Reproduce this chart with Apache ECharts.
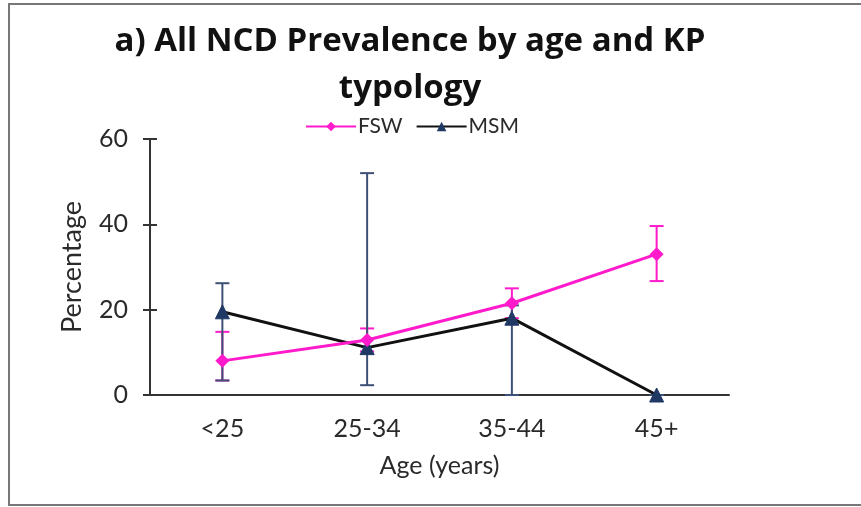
<!DOCTYPE html>
<html>
<head>
<meta charset="utf-8">
<script src="https://cdn.jsdelivr.net/npm/echarts@6/dist/echarts.min.js"></script>
<style>html,body{margin:0;padding:0;background:#fff;}#main{width:861px;height:507px;}</style>
</head>
<body>
<div id="main"></div>
<script>
var categories = ['<25', '25-34', '35-44', '45+'];
var fswValues = [8.0, 12.9, 21.5, 33.0];
var fswLower = [3.4, 10.2, 18.0, 26.7];
var fswUpper = [14.8, 15.6, 25.0, 39.6];
var msmValues = [19.5, 11.1, 18.0, 0];
var msmLower = [3.4, 2.3, 0, 0];
var msmUpper = [26.2, 52.0, 21.0, 0];
var yTicks = [0, 20, 40, 60];

var FONT = 'Lato, "Open Sans", sans-serif';
var TITLE_FONT = '"Open Sans", Lato, sans-serif';
var PINK = '#ff1acb';
var NAVY = '#1f3864';
var NAVY_ERR = '#3d5075';
var TXT = '#2a2a2a';

function errData(lo, hi) {
  return categories.map(function (c, i) { return [i, lo[i], hi[i]]; });
}
function errRender(color) {
  return function (params, api) {
    var x = api.value(0);
    var p1 = api.coord([x, api.value(1)]);
    var p2 = api.coord([x, api.value(2)]);
    var w = 7;
    var st = { stroke: color, lineWidth: 2 };
    return {
      type: 'group',
      children: [
        { type: 'line', shape: { x1: p1[0], y1: p1[1], x2: p2[0], y2: p2[1] }, style: st },
        { type: 'line', shape: { x1: p1[0] - w, y1: p1[1], x2: p1[0] + w, y2: p1[1] }, style: st },
        { type: 'line', shape: { x1: p2[0] - w, y1: p2[1], x2: p2[0] + w, y2: p2[1] }, style: st }
      ]
    };
  };
}

var chart = echarts.init(document.getElementById('main'));
chart.setOption({
  backgroundColor: '#fff',
  animation: false,
  graphic: [{
    type: 'rect', z: -10,
    shape: { x: 9, y: 4, width: 900, height: 501 },
    style: { fill: 'none', stroke: '#777', lineWidth: 2 }
  }],
  title: {
    text: 'a) All NCD Prevalence by age and KP\ntypology',
    left: 405, top: 13, textAlign: 'center',
    textStyle: { fontFamily: TITLE_FONT, fontWeight: 'bold', fontSize: 33, lineHeight: 47, color: '#111' }
  },
  legend: {
    top: 111, left: 300,
    itemWidth: 50, itemHeight: 12, itemGap: 13,
    data: ['FSW', 'MSM'],
    textStyle: { fontFamily: FONT, fontSize: 21, color: TXT, padding: [0, 0, 0, -3] }
  },
  grid: { left: 150, right: 132, top: 139, bottom: 112 },
  xAxis: {
    type: 'category', data: categories, boundaryGap: true,
    name: 'Age (years)', nameLocation: 'middle', nameGap: 58,
    nameTextStyle: { fontFamily: FONT, fontSize: 25, color: TXT },
    axisLine: { lineStyle: { color: '#333', width: 2 } },
    axisTick: { show: false },
    axisLabel: { fontFamily: FONT, fontSize: 25, color: TXT, margin: 21 }
  },
  yAxis: [{
    type: 'value', min: 0, max: 60, interval: 20,
    name: 'Percentage', nameLocation: 'middle', nameGap: 64,
    nameTextStyle: { fontFamily: FONT, fontSize: 27, color: TXT },
    axisLine: { show: true, lineStyle: { color: '#333', width: 2 } },
    axisTick: { show: true, length: 7, lineStyle: { color: '#333', width: 2 } },
    splitLine: { show: false },
    axisLabel: { fontFamily: FONT, fontSize: 25, color: TXT, margin: 22,
      formatter: function (v) { return yTicks.indexOf(v) >= 0 ? String(v) : ''; } }
  }, {
    type: 'value', min: 0, max: 60, interval: 20, position: 'left', offset: 0,
    axisLine: { show: false },
    axisTick: { show: true, inside: true, length: 7, lineStyle: { color: '#333', width: 2 } },
    splitLine: { show: false },
    axisLabel: { show: false }
  }],
  series: [
    {
      name: 'FSW-err', type: 'custom', data: errData(fswLower, fswUpper),
      renderItem: errRender(PINK), z: 1, silent: true,
      encode: { x: 0, y: [1, 2] }
    },
    {
      name: 'MSM-err', type: 'custom', data: errData(msmLower, msmUpper),
      renderItem: errRender(NAVY_ERR), z: 1, silent: true,
      encode: { x: 0, y: [1, 2] }
    },
    {
      name: 'MSM', type: 'line', data: msmValues, z: 3,
      symbol: 'triangle', symbolSize: 14,
      lineStyle: { color: '#111', width: 3 },
      itemStyle: { color: NAVY, borderColor: NAVY },
      color: NAVY
    },
    {
      name: 'FSW', type: 'line', data: fswValues, z: 4,
      symbol: 'diamond', symbolSize: 14,
      lineStyle: { color: PINK, width: 3 },
      itemStyle: { color: PINK },
      color: PINK
    }
  ]
});
</script>
</body>
</html>
